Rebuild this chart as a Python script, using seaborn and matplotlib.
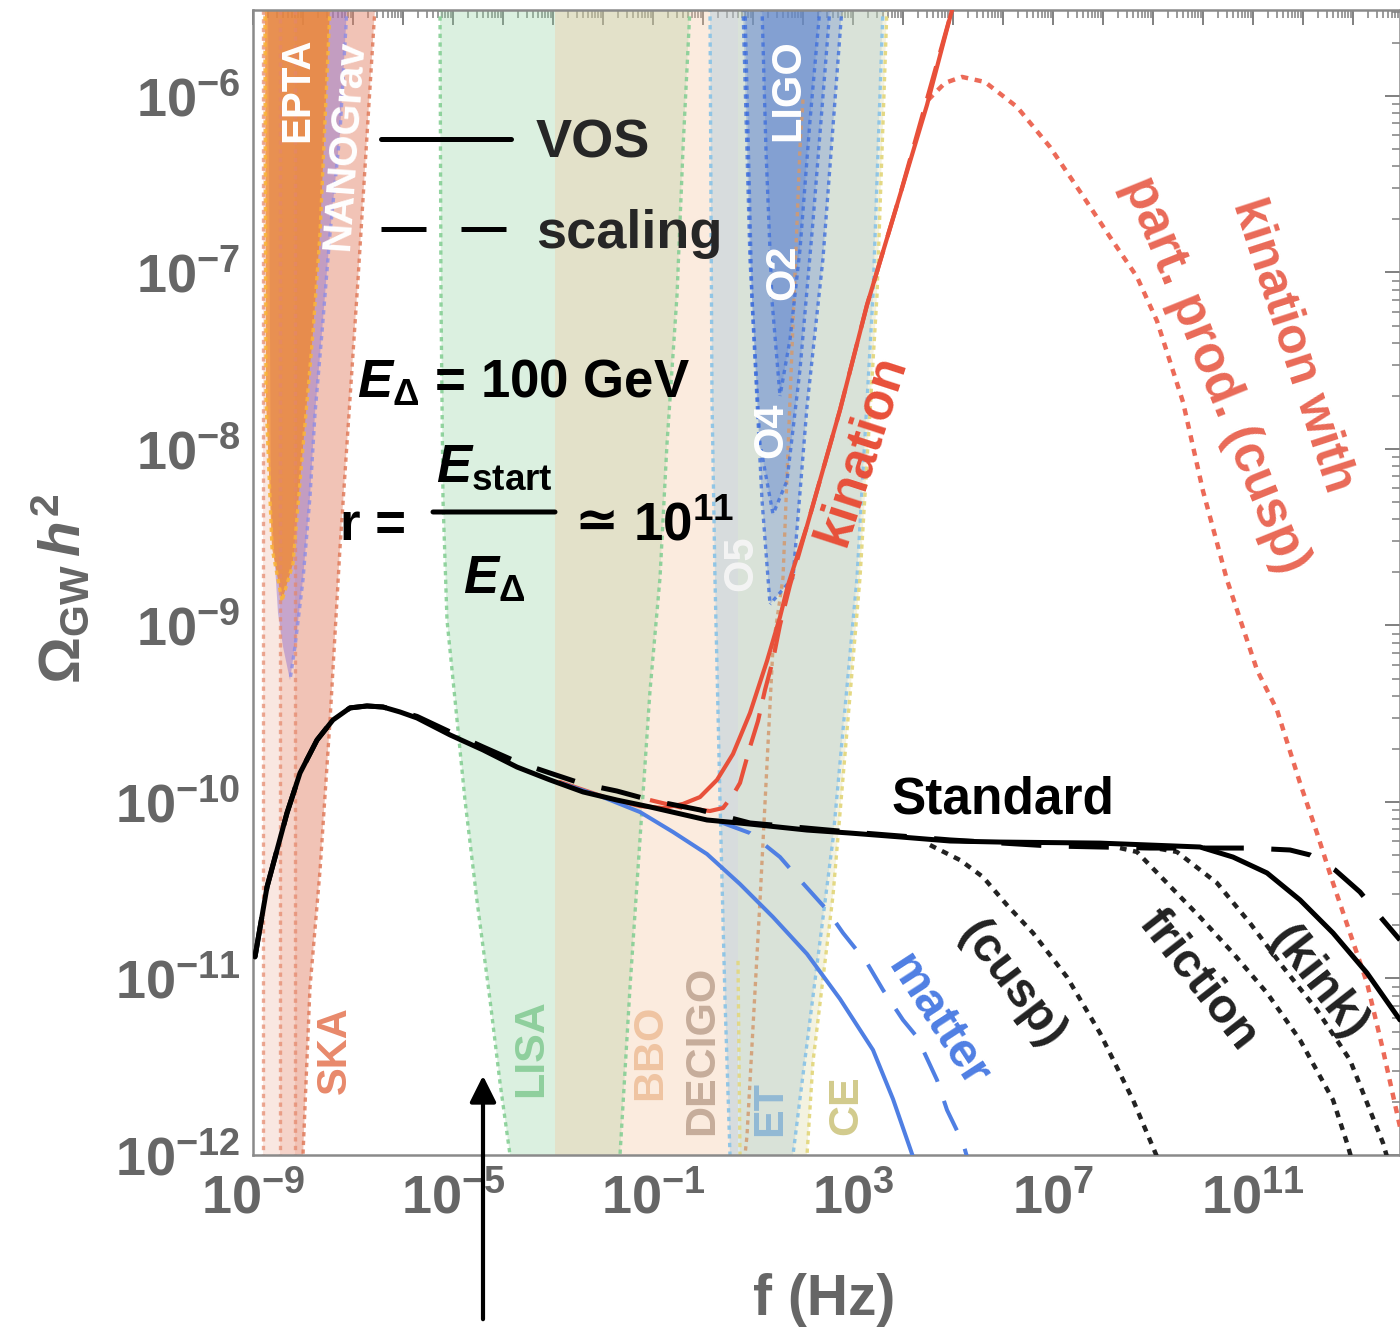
import numpy as np
import matplotlib
matplotlib.use("Agg")
import matplotlib.pyplot as plt
import seaborn as sns
from matplotlib.ticker import LogLocator, FuncFormatter, NullFormatter
from matplotlib.lines import Line2D

# ---------------- data: log10 f [Hz] and log10 Omega_GW h^2 ----------------
std_vos_lf = [-8.96, -8.72, -8.52, -8.32, -8.06, -7.72, -7.40, -7.06, -6.72, -6.40, -6.06, -5.72, -5.06,
              -4.40, -3.72, -3.06, -2.40, -1.72, -1.06, 0.08, 0.94, 2.08, 2.94, 3.94, 4.94, 5.94, 7.94,
              9.94, 10.60, 11.28, 11.94, 12.60, 13.28, 13.94]
std_vos_lo = [-10.878, -10.482, -10.272, -10.062, -9.836, -9.649, -9.535, -9.467, -9.456, -9.462, -9.490,
              -9.524, -9.620, -9.705, -9.802, -9.875, -9.943, -9.989, -10.028, -10.102, -10.125, -10.159,
              -10.176, -10.198, -10.221, -10.227, -10.233, -10.255, -10.312, -10.402, -10.555, -10.742,
              -10.969, -11.235]

std_scal_lf = [-8.96, -8.72, -8.52, -8.32, -8.06, -7.72, -7.40, -7.06, -6.72, -6.40, -6.06, -5.72, -5.06,
               -4.40, -3.72, -3.06, -2.40, -1.72, -1.06, -0.06, 0.94, 2.94, 4.94, 6.94, 8.94, 10.94, 11.74,
               12.14, 12.64, 13.14, 13.60, 13.94]
std_scal_lo = [-10.878, -10.482, -10.272, -10.062, -9.836, -9.649, -9.535, -9.467, -9.456, -9.462, -9.488,
               -9.515, -9.603, -9.688, -9.773, -9.836, -9.898, -9.938, -9.989, -10.045, -10.119, -10.170,
               -10.215, -10.249, -10.261, -10.261, -10.272, -10.300, -10.385, -10.510, -10.669, -10.782]

cusp_lf = [4.54, 5.14, 5.60, 6.08, 6.60, 7.28, 7.94, 8.60, 9.08]
cusp_lo = [-10.244, -10.329, -10.425, -10.584, -10.742, -10.992, -11.309, -11.688, -12.01]

fric1_lf = [8.34, 8.68, 9.28, 9.94, 10.60, 11.28, 11.94, 12.60, 12.88, 12.98]
fric1_lo = [-10.261, -10.283, -10.459, -10.652, -10.856, -11.082, -11.348, -11.688, -11.932, -12.03]

fric2_lf = [9.14, 9.48, 10.28, 10.94, 11.60, 12.28, 12.94, 13.60, 13.70]
fric2_lo = [-10.266, -10.283, -10.459, -10.686, -10.935, -11.178, -11.462, -11.932, -12.03]

matter_vos_lf = [-2.86, -2.06, -1.26, -0.60, 0.08, 0.74, 1.40, 2.08, 2.74, 3.40, 3.80, 4.20]
matter_vos_lo = [-9.892, -9.966, -10.057, -10.170, -10.295, -10.465, -10.652, -10.861, -11.116, -11.405,
                 -11.683, -12.01]

matter_scal_lf = [0.34, 0.94, 1.54, 1.94, 2.48, 2.80, 3.28, 3.60, 4.00, 4.28, 4.68, 4.88, 5.20, 5.30]
matter_scal_lo = [-10.113, -10.176, -10.312, -10.442, -10.612, -10.742, -10.912, -11.065, -11.235, -11.331,
                  -11.575, -11.745, -11.932, -12.03]

kin_vos_lf = [-2.86, -1.92, -1.26, -0.80, -0.40, -0.06, 0.28, 0.60, 0.94, 1.28, 1.54, 1.70, 2.08, 2.74,
              3.28, 3.94, 4.48, 4.98, 5.10]
kin_vos_lo = [-9.887, -9.977, -10.023, -10.034, -10.011, -9.972, -9.875, -9.728, -9.496, -9.201, -8.952,
              -8.771, -8.436, -7.779, -7.184, -6.561, -6.051, -5.513, -5.40]

kin_scal_lf = [-1.06, -0.40, 0.14, 0.40, 0.60, 0.74, 0.94, 1.10, 1.24, 1.40, 1.54, 1.74, 2.08, 2.74,
               3.28, 3.94, 4.98, 5.10]
kin_scal_lo = [-9.989, -10.034, -10.051, -10.034, -9.960, -9.892, -9.688, -9.541, -9.365, -9.195, -8.997,
               -8.771, -8.436, -7.779, -7.184, -6.561, -5.513, -5.40]

kin_pp_lf = [4.50, 4.84, 5.18, 5.64, 6.28, 6.94, 7.60, 8.14, 8.68, 9.08, 9.60, 10.00, 10.48, 11.08,
             11.48, 11.94, 12.28, 12.60, 12.94, 13.28, 13.60, 13.94]
kin_pp_lo = [-6.023, -5.926, -5.892, -5.921, -6.062, -6.289, -6.567, -6.799, -7.025, -7.275, -7.734,
             -8.238, -8.742, -9.252, -9.479, -9.892, -10.176, -10.459, -10.742, -11.025, -11.405, -11.841]

# ---- detector sensitivity regions (edges, log10 units) ----
ska_inner_lf = [-8.80, -8.46, -8.16]
ska_right_lf = [-6.56, -6.90, -7.26, -7.46, -7.66, -7.86, -8.00]
ska_right_lo = [-5.50, -7.04, -8.56, -9.54, -10.39, -11.05, -12.00]

epta_left_lf = [-8.76, -8.74, -8.62, -8.42]
epta_left_lo = [-5.50, -7.72, -8.56, -8.86]
epta_right_lf = [-7.46, -7.66, -7.80, -8.00, -8.20, -8.42]
epta_right_lo = [-5.50, -6.78, -7.34, -7.99, -8.65, -8.86]

nano_left_lf = [-8.70, -8.64, -8.50, -8.40, -8.26]
nano_left_lo = [-5.50, -8.30, -8.93, -9.12, -9.31]
nano_right_lf = [-7.12, -7.26, -7.46, -7.62, -7.76, -7.86, -8.00, -8.16, -8.26]
nano_right_lo = [-5.50, -6.21, -6.78, -7.34, -7.80, -8.27, -8.74, -9.12, -9.31]

lisa_left_lf = [-5.26, -5.24, -5.20, -5.12, -4.96, -4.76, -4.52, -4.26, -4.06, -3.86]
lisa_left_lo = [-5.50, -7.16, -8.29, -8.97, -9.42, -9.99, -10.56, -11.12, -11.59, -12.0]
lisa_right_lf = [-0.26, -0.40, -0.52, -0.72, -0.86, -1.06, -1.26, -1.46, -1.66]
lisa_right_lo = [-5.50, -6.30, -7.13, -7.97, -8.73, -9.37, -10.21, -11.05, -12.0]

bbo_band_lf = [-2.96, 0.70]

decigo_edge_lf = [2.00, 1.94, 1.74, 1.60, 1.40, 1.14, 0.88, 0.84]
decigo_edge_lo = [-6.02, -6.29, -7.72, -8.73, -9.12, -10.56, -11.89, -12.0]

et_left_lf = [0.14, 0.18, 0.24, 0.34, 0.44, 0.54]
et_left_lo = [-5.50, -7.72, -8.74, -9.99, -11.12, -12.0]
et_right_lf = [3.60, 3.40, 3.08, 2.60, 1.94, 1.80]
et_right_lo = [-5.50, -7.13, -8.73, -10.21, -11.68, -12.0]

ce_left_lf = [0.70, 0.70, 0.74]
ce_left_lo = [-5.50, -10.90, -12.0]
ce_right_lf = [3.68, 3.48, 3.14, 2.60, 2.20, 2.08]
ce_right_lo = [-5.50, -7.13, -8.73, -10.53, -11.47, -12.0]

o2_left_lf = [1.18, 1.26, 1.38, 1.54]
o2_left_lo = [-5.50, -6.31, -7.16, -7.70]
o2_right_lf = [2.34, 2.14, 1.94, 1.74, 1.54]
o2_right_lo = [-5.50, -6.14, -6.87, -7.38, -7.70]

o4_left_lf = [0.80, 0.94, 1.14, 1.40]
o4_left_lo = [-5.50, -6.93, -7.97, -8.37]
o4_right_lf = [2.54, 2.20, 1.94, 1.68, 1.40]
o4_right_lo = [-5.50, -6.71, -7.55, -8.18, -8.37]

o5_left_lf = [0.84, 0.98, 1.18, 1.34]
o5_left_lo = [-5.50, -7.16, -8.29, -8.88]
o5_right_lf = [2.78, 2.40, 2.08, 1.80, 1.34]
o5_right_lo = [-5.50, -6.92, -7.76, -8.73, -8.88]

# ---------------- style ----------------
sns.set_theme(style="white")
plt.rcParams["font.family"] = ["Liberation Sans", "DejaVu Sans"]
plt.rcParams["font.weight"] = "bold"
plt.rcParams["mathtext.fontset"] = "custom"
plt.rcParams["mathtext.rm"] = "Liberation Sans:bold"
plt.rcParams["mathtext.bf"] = "Liberation Sans:bold"
plt.rcParams["mathtext.sf"] = "Liberation Sans:bold"
plt.rcParams["mathtext.it"] = "Liberation Sans:italic:bold"

GREY = "#666666"
RED = "#e8503a"
RED_DOT = "#ec6a58"
BLUE = "#4f7fe3"

fig = plt.figure(figsize=(14, 13.29), dpi=100)
ax = fig.add_axes([253 / 1400, 174 / 1329, 1147 / 1400, 1145 / 1329])
ax.set_xscale("log")
ax.set_yscale("log")
XMIN, XMAX = -9.0, 13.94
YMIN, YMAX = -12.0, -5.513
ax.set_xlim(10 ** XMIN, 10 ** XMAX)
ax.set_ylim(10 ** YMIN, 10 ** YMAX)


def P(a):
    return 10 ** np.asarray(a, dtype=float)


def region(lf_l, lo_l, lf_r, lo_r, color, alpha, z=1):
    x = list(lf_l) + list(lf_r)[::-1]
    y = list(lo_l) + list(lo_r)[::-1]
    ax.fill(P(x), P(y), color=color, alpha=alpha, lw=0, zorder=z)


def edge(lf, lo, color, alpha=0.85, lw=2.4, z=1.5):
    ax.plot(P(lf), P(lo), color=color, alpha=alpha, lw=lw, ls=(0, (1.3, 1.3)), zorder=z,
            solid_capstyle="butt")


# SKA (nested)
for lf in ska_inner_lf:
    region([lf, lf], [YMAX + 0.01, YMIN], ska_right_lf, ska_right_lo, "#e5876a", 0.2)
    edge([lf, lf], [YMAX, YMIN], "#e5876a", 0.7)
edge(ska_right_lf, ska_right_lo, "#e07a5a", 0.85)

# NANOGrav and EPTA
region(nano_left_lf, nano_left_lo, nano_right_lf, nano_right_lo, "#8d6fd0", 0.45, z=1.2)
edge(nano_right_lf, nano_right_lo, "#8c8ce6", 0.8, z=1.6)
region(epta_left_lf, epta_left_lo, epta_right_lf, epta_right_lo, "#f2882c", 0.78, z=1.3)
edge(epta_right_lf, epta_right_lo, "#f9b43a", 0.9, z=1.6)
edge(epta_left_lf, epta_left_lo, "#f9b43a", 0.9, z=1.6)

# LISA
region(lisa_left_lf, lisa_left_lo, lisa_right_lf, lisa_right_lo, "#8fd3a0", 0.32)
edge(lisa_left_lf, lisa_left_lo, "#86cf95", 0.9)
edge(lisa_right_lf, lisa_right_lo, "#86cf95", 0.9)

# BBO / DECIGO
ax.fill_between(P(bbo_band_lf), 10 ** YMIN, 10 ** (YMAX + 0.01), color="#f4c39c", alpha=0.33, lw=0, zorder=1)
edge(decigo_edge_lf, decigo_edge_lo, "#d39a6e", 0.85)

# ET and CE
region(et_left_lf, et_left_lo, et_right_lf, et_right_lo, "#8fbfdc", 0.33)
region(ce_left_lf, ce_left_lo, ce_right_lf, ce_right_lo, "#d8d49a", 0.30)
edge(et_left_lf, et_left_lo, "#8cc4e6", 0.95)
edge(et_right_lf, et_right_lo, "#8cc4e6", 0.95)
edge(ce_left_lf[1:], ce_left_lo[1:], "#e3d77e", 0.9)
edge(ce_right_lf, ce_right_lo, "#e3d77e", 0.95)

# LIGO O5, O4, O2
for l_lf, l_lo, r_lf, r_lo in [(o5_left_lf, o5_left_lo, o5_right_lf, o5_right_lo),
                               (o4_left_lf, o4_left_lo, o4_right_lf, o4_right_lo),
                               (o2_left_lf, o2_left_lo, o2_right_lf, o2_right_lo)]:
    region(l_lf, l_lo, r_lf, r_lo, "#4a74d0", 0.26, z=1.4)
    edge(l_lf, l_lo, "#3f6fdc", 0.8, z=1.7)
    edge(r_lf, r_lo, "#3f6fdc", 0.8, z=1.7)


# ---------------- curves ----------------
def curve(lf, lo, color, lw, ls="-", z=3):
    sns.lineplot(x=P(lf), y=P(lo), sort=False, estimator=None, ax=ax, color=color, lw=lw,
                 linestyle=ls, legend=False, zorder=z)


curve(kin_pp_lf, kin_pp_lo, RED_DOT, 3.2, (0, (1.6, 1.5)))
curve(kin_scal_lf, kin_scal_lo, RED, 3.0, (0, (8, 3.5)))
curve(kin_vos_lf, kin_vos_lo, RED, 3.0)
curve(matter_scal_lf, matter_scal_lo, BLUE, 2.9, (0, (8, 5)))
curve(matter_vos_lf, matter_vos_lo, BLUE, 2.9)
curve(cusp_lf, cusp_lo, "#222222", 3.2, (0, (1.5, 1.5)))
curve(fric1_lf, fric1_lo, "#222222", 3.2, (0, (1.5, 1.5)))
curve(fric2_lf, fric2_lo, "#222222", 3.2, (0, (1.5, 1.5)))
curve(std_scal_lf, std_scal_lo, "black", 3.6, (0, (8, 5.5)), z=3.2)
curve(std_vos_lf, std_vos_lo, "black", 3.6, z=3.3)

# ---------------- axes styling ----------------
for s in ax.spines.values():
    s.set_color("#8a8a8a")
    s.set_linewidth(1.8)

ax.xaxis.set_major_locator(LogLocator(base=10, numticks=60))
ax.xaxis.set_minor_locator(LogLocator(base=10, subs=np.arange(2, 10), numticks=400))
ax.yaxis.set_major_locator(LogLocator(base=10, numticks=60))
ax.yaxis.set_minor_locator(LogLocator(base=10, subs=np.arange(2, 10), numticks=400))
ax.xaxis.set_minor_formatter(NullFormatter())
ax.yaxis.set_minor_formatter(NullFormatter())


def xfmt(v, pos):
    e = int(round(np.log10(v)))
    return r"$\mathbf{10^{%d}}$" % e if (e + 9) % 4 == 0 else ""


def yfmt(v, pos):
    e = int(round(np.log10(v)))
    return r"$\mathbf{10^{%d}}$" % e


ax.xaxis.set_major_formatter(FuncFormatter(xfmt))
ax.yaxis.set_major_formatter(FuncFormatter(yfmt))
ax.tick_params(which="both", direction="in", top=True, right=True, color="#808080",
               labelcolor=GREY, labelsize=39)
ax.tick_params(which="major", length=11, width=1.4)
ax.tick_params(which="minor", length=6, width=1.1)
ax.tick_params(axis="x", which="major", pad=13)
ax.tick_params(axis="y", which="major", pad=9)

ax.set_xlabel("f (Hz)", fontsize=41, color=GREY, fontweight="bold")
ax.xaxis.set_label_coords(0.498, -0.103)
ax.set_ylabel(r"$\Omega_{\mathrm{GW}}\,h^2$", fontsize=42, color=GREY)
ax.yaxis.set_label_coords(-0.140, 0.495)

# ---------------- legend ----------------
handles = [Line2D([], [], color="black", lw=3.6),
           Line2D([], [], color="black", lw=3.6, ls=(0, (9, 7)))]
ax.legend(handles, ["VOS", "scaling"], loc="upper left", bbox_to_anchor=(0.112, 0.905),
          frameon=False, fontsize=39, handlelength=2.4, handletextpad=0.45, labelspacing=0.75,
          borderpad=0, borderaxespad=0)


# ---------------- annotations ----------------
def T(lf, lo, s, color, size, rot=0, ha="center", va="center", **kw):
    ax.text(10 ** lf, 10 ** lo, s, color=color, fontsize=size, rotation=rot, ha=ha, va=va,
            fontweight="bold", zorder=5, rotation_mode="anchor", **kw)


T(-8.12, -5.966, "EPTA", "white", 29, 90)
T(-7.16, -6.278, "NANOGrav", "white", 29, 86)
T(-7.36, -11.405, "SKA", "#e8896b", 30, 90)
T(-3.44, -11.394, "LISA", "#8fcf9d", 31, 90)
T(-1.06, -11.416, "BBO", "#efc4a2", 31, 90)
T(-0.02, -11.405, "DECIGO", "#c6ad9b", 31, 90)
T(1.34, -11.734, "ET", "#92b9d4", 31, 90)
T(2.86, -11.717, "CE", "#d2cb8d", 31, 90)
T(1.70, -5.966, "LIGO", "white", 30, 90)
T(1.60, -6.997, "O2", "white", 30, 90)
T(1.36, -7.892, "O4", "white", 30, 90)
T(0.76, -8.646, "O5", "#f4f4f4", 30, 90)
T(3.18, -8.006, "kination", RED, 37, 72)
T(11.80, -7.411, "kination with", "#e96a58", 36, -72)
T(10.24, -7.581, "part. prod. (cusp)", "#e96a58", 37, -68)
T(6.00, -9.989, "Standard", "black", 37, 0)
T(6.18, -11.037, "(cusp)", "#222222", 35, -53)
T(9.90, -11.008, "friction", "#222222", 35, -52)
T(12.30, -11.025, "(kink)", "#222222", 35, -52)
T(4.70, -11.246, "matter", BLUE, 35, -57)

# E_Delta line
T(-6.92, -7.711, r"$E_{\Delta}$ = 100 GeV", "black", 38, ha="left", va="baseline")
# r = E_start / E_Delta ~ 10^11
T(-7.26, -8.516, "r =", "black", 38, ha="left", va="baseline")
T(-4.18, -8.108, r"$E_{\mathrm{start}}$", "black", 38)
T(-4.18, -8.742, r"$E_{\Delta}$", "black", 38)
ax.annotate("", xy=(10 ** -2.96, 10 ** -8.357), xytext=(10 ** -5.40, 10 ** -8.357),
            arrowprops=dict(arrowstyle="-", color="black", lw=3.6, shrinkA=0, shrinkB=0), zorder=5)
ax.text(10 ** -2.12, 10 ** -8.414, "\u2243", color="black", fontsize=38, ha="center", va="center",
        fontweight="bold", family=["DejaVu Sans"], zorder=5)
T(-1.40, -8.516, r"$\mathrm{10^{11}}$", "black", 38, ha="left", va="baseline")

ax.annotate("", xy=(10 ** -4.40, 10 ** -11.535), xytext=(10 ** -4.40, 10 ** -12.946),
            arrowprops=dict(arrowstyle="-|>", color="black", lw=3, mutation_scale=40),
            annotation_clip=False, zorder=6)

fig.savefig("out.png", dpi=100)
